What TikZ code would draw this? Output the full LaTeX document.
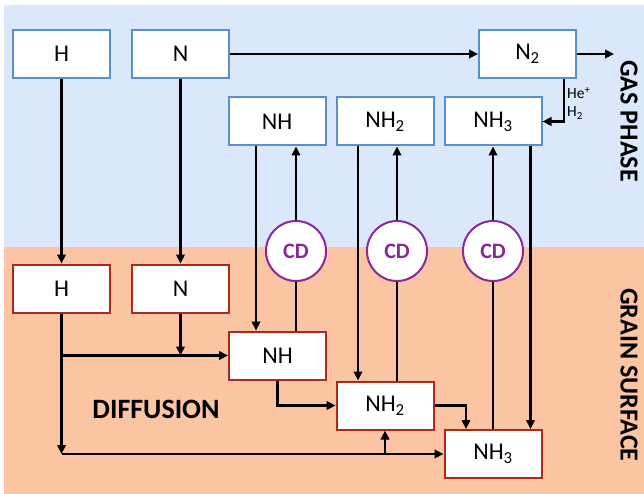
\documentclass[tikz,border=0pt]{standalone}
\usepackage{fontspec}
\setmainfont{Carlito}
\usetikzlibrary{arrows.meta}
\definecolor{bgblue}{RGB}{219,232,251}
\definecolor{bgorange}{RGB}{251,196,162}
\definecolor{boxblue}{RGB}{92,141,206}
\definecolor{boxred}{RGB}{172,42,28}
\definecolor{cdpurple}{RGB}{138,40,150}
\tikzset{
  basebox/.style={fill=white, line width=2pt, minimum width=97pt, minimum height=48pt, inner sep=0pt, font=\fontsize{24}{26}\selectfont},
  gbox/.style={basebox, draw=boxblue},
  sbox/.style={basebox, draw=boxred},
  cdnode/.style={circle, draw=cdpurple, fill=white, line width=2pt, minimum size=60pt, inner sep=0pt, text=cdpurple, font=\fontsize{22}{24}\selectfont\bfseries},
  arr/.style={line width=2.2pt, -{Triangle[length=9pt,width=8.5pt]}},
  ln/.style={line width=2.2pt},
  sidelbl/.style={rotate=-90, font=\fontsize{26}{28}\selectfont\bfseries},
  smalllbl/.style={anchor=west, inner sep=0pt, font=\fontsize{15.5}{17}\selectfont}
}
\begin{document}
\begin{tikzpicture}[x=1pt, y=-1pt]
\useasboundingbox (0,0) rectangle (644,494);
\fill[bgblue] (4,5) rectangle (644,247);
\fill[bgorange] (4,247) rectangle (644,494);
% gas phase nodes
\node[gbox] (Ht) at (61.5,54) {H};
\node[gbox] (Nt) at (180.5,54) {N};
\node[gbox] (N2) at (527.5,54) {N\textsubscript{2}};
\node[gbox] (NHg) at (277,121.5) {NH};
\node[gbox] (NH2g) at (385,121.5) {NH\textsubscript{2}};
\node[gbox] (NH3g) at (493,121.5) {NH\textsubscript{3}};
% CD circles
\node[cdnode] (CD1) at (296,251) {CD};
\node[cdnode] (CD2) at (397,251) {CD};
\node[cdnode] (CD3) at (493,251) {CD};
% surface nodes
\node[sbox] (Hs) at (61.5,288.5) {H};
\node[sbox] (Ns) at (180.5,288.5) {N};
\node[sbox] (NHs) at (277.5,355.5) {NH};
\node[sbox] (NH2s) at (385,405.5) {NH\textsubscript{2}};
\node[sbox] (NH3s) at (493,454) {NH\textsubscript{3}};
% labels
\node[font=\fontsize{28}{30}\selectfont\bfseries] (diff) at (156,409) {DIFFUSION};
\node[sidelbl] (gas) at (629,121) {GAS PHASE};
\node[sidelbl] (grain) at (629,375) {GRAIN SURFACE};
\node[smalllbl] (he) at (567,93) {He\textsuperscript{+}};
\node[smalllbl] (h2) at (567,113) {H\textsubscript{2}};
% gas phase connectors
\coordinate (out) at (614,54);
\draw[arr] (Nt.east) -- (N2.west);
\draw[arr] (N2.east) -- (out);
\draw[arr] ([xshift=36.5pt]N2.south) |- (NH3g.east);
\draw[arr] (Ht.south) -- (Hs.north);
\draw[arr] (Nt.south) -- (Ns.north);
% gas to surface
\draw[arr] ([xshift=-21pt]NHg.south) -- ([xshift=-21.5pt]NHs.north);
\draw[arr] ([xshift=-27pt]NH2g.south) -- ([xshift=-27pt]NH2s.north);
\draw[arr] ([xshift=37.5pt]NH3g.south) -- ([xshift=37.5pt]NH3s.north);
% CD
\draw[arr] (CD1.north) -- (NHg.south -| CD1.north);
\draw[ln] (CD1.south) -- (NHs.north -| CD1.south);
\draw[arr] (CD2.north) -- (NH2g.south -| CD2.north);
\draw[ln] (CD2.south) -- (NH2s.north -| CD2.south);
\draw[arr] (CD3.north) -- (NH3g.south -| CD3.north);
\draw[ln] (CD3.south) -- (NH3s.north -| CD3.south);
% surface connectors
\coordinate (corner) at (Hs.south |- NH3s.west);
\draw[arr] (Hs.south) -- (corner);
\draw[arr] (corner) -- (NH3s.west);
\draw[arr] (Hs.south |- NHs.west) -- (NHs.west);
\draw[arr] (Ns.south) -- (Ns.south |- NHs.west);
\draw[arr] (NHs.south) |- (NH2s.west);
\draw[arr] (NH2s.east) -| ([xshift=-27pt]NH3s.north);
\draw[arr] (NH2s.south |- NH3s.west) -- (NH2s.south);
\end{tikzpicture}
\end{document}
